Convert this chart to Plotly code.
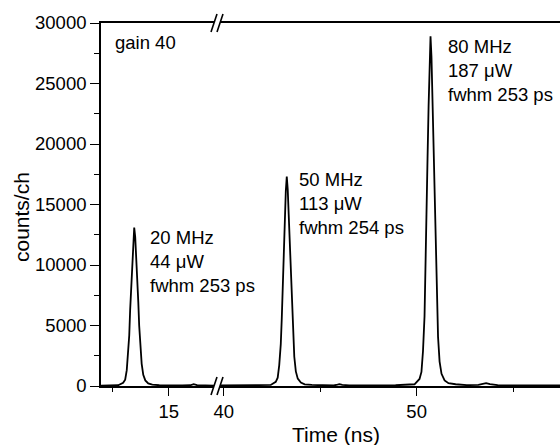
import plotly.graph_objects as go

# Time-resolved photon counts, gain 40, broken time axis (ns)
# Segment before the break: 20 MHz pulse
time_a = [12.0, 12.76, 12.98, 13.07, 13.14, 13.205, 13.25, 13.29, 13.34, 13.38,
          13.426, 13.47, 13.514, 13.56, 13.60, 13.65, 13.69, 13.735, 13.80, 13.87,
          13.96, 14.09, 14.27, 14.58, 15.0, 15.6, 15.95, 16.1, 16.25, 16.6, 17.0]
counts_a = [20, 65, 260, 520, 1310, 2620, 4190, 6290, 8520, 10480,
            12180, 13100, 12310, 10740, 8910, 6940, 4980, 3410, 1830, 920,
            460, 210, 105, 65, 45, 40, 60, 150, 70, 40, 35]

# Segment after the break: 50 MHz and 80 MHz pulses
time_b = [39.81, 40.5, 41.0, 41.46, 42.44, 42.70, 42.80, 42.88, 42.96, 43.01,
          43.06, 43.115, 43.17, 43.22, 43.27, 43.32, 43.37, 43.425, 43.48, 43.53,
          43.58, 43.66, 43.74, 43.84, 44.00, 44.20, 44.57, 45.0, 45.7, 45.9,
          46.0, 46.15, 46.5, 47.5, 48.5, 48.91, 49.89, 50.15, 50.25, 50.33,
          50.41, 50.46, 50.51, 50.565, 50.62, 50.67, 50.72, 50.77, 50.82, 50.875,
          50.93, 50.98, 51.03, 51.11, 51.19, 51.29, 51.45, 51.65, 52.02, 52.6,
          53.2, 53.45, 53.6, 53.8, 54.2, 55.0, 56.0, 57.43]
counts_b = [40, 40, 35, 35, 85, 350, 690, 1730, 3460, 5540,
            8300, 11250, 13840, 16090, 17300, 16260, 14190, 11760, 9170, 6570,
            4500, 2420, 1210, 610, 280, 140, 85, 50, 45, 110,
            150, 100, 45, 40, 40, 60, 145, 580, 1160, 2890,
            5780, 9250, 13870, 18790, 23120, 26880, 28900, 27170, 23700, 19650,
            15320, 10980, 7510, 4050, 2020, 1010, 460, 230, 145, 70,
            90, 200, 230, 150, 70, 50, 45, 45]

range_a = [12.0, 17.0]
range_b = [39.81, 57.43]
y_range = [0, 30000]

labels = [
    (12.53, 28350, "x", "gain 40"),
    (14.08, 10250, "x", "20 MHz<br>44 μW<br>fwhm 253 ps"),
    (43.82, 15080, "x2", "50 MHz<br>113 μW<br>fwhm 254 ps"),
    (51.50, 26060, "x2", "80 MHz<br>187 μW<br>fwhm 253 ps"),
]

FONT = "Liberation Sans, Arial, sans-serif"
TXT = 18.5
TITLE = 21
W, H = 560, 445
ML, MR, MT, MB = 101, 0, 23, 59
PW = W - ML - MR
PH = H - MT - MB

# pixel edges of the two axis segments
seg_a_end = 214
seg_b_start = 220
dom_a = [0, (seg_a_end - ML) / PW]
dom_b = [(seg_b_start - ML) / PW, 1]

fig = go.Figure()
line_style = dict(color="black", width=1.8)
fig.add_trace(go.Scatter(x=time_a, y=counts_a, mode="lines", line=line_style,
                         xaxis="x", yaxis="y", showlegend=False))
fig.add_trace(go.Scatter(x=time_b, y=counts_b, mode="lines", line=line_style,
                         xaxis="x2", yaxis="y", showlegend=False))

axis_common = dict(showline=True, linecolor="black", linewidth=1.6, mirror=True,
                   ticks="outside", ticklen=8, tickwidth=1.4, tickcolor="black",
                   showgrid=False, zeroline=False,
                   tickfont=dict(family=FONT, size=TXT, color="black"))

fig.update_layout(
    width=W, height=H,
    margin=dict(l=ML, r=MR, t=MT, b=MB),
    paper_bgcolor="white", plot_bgcolor="white",
    xaxis=dict(domain=dom_a, range=range_a, anchor="y", dtick=5, tick0=0,
               minor=dict(dtick=2.5, tick0=0, ticks="outside", ticklen=4,
                          tickcolor="black", tickwidth=1.4),
               **axis_common),
    xaxis2=dict(domain=dom_b, range=range_b, anchor="y", dtick=10, tick0=0,
                minor=dict(dtick=5, tick0=0, ticks="outside", ticklen=4,
                           tickcolor="black", tickwidth=1.4),
                **axis_common),
    yaxis=dict(range=y_range, dtick=5000, tickformat="d", showline=True,
               linecolor="black", linewidth=1.6, ticks="outside", ticklen=9,
               tickwidth=1.4, tickcolor="black", showgrid=False, zeroline=False,
               minor=dict(dtick=2500, ticks="outside", ticklen=5,
                          tickcolor="black", tickwidth=1.4),
               tickfont=dict(family=FONT, size=TXT, color="black")),
)

for x, y, xr, txt in labels:
    fig.add_annotation(x=x, y=y, xref=xr, yref="y", text=txt, showarrow=False,
                       xanchor="left", yanchor="middle", align="left",
                       font=dict(family=FONT, size=TXT, color="black"))

fig.add_annotation(x=(336 - ML) / PW, y=(MT + PH - 434) / PH, xref="paper", yref="paper",
                   text="Time (ns)", showarrow=False, xanchor="center", yanchor="middle",
                   font=dict(family=FONT, size=TITLE, color="black"))
fig.add_annotation(x=(21 - ML) / PW, y=(MT + PH - 217) / PH, xref="paper", yref="paper",
                   text="counts/ch", textangle=-90, showarrow=False,
                   xanchor="center", yanchor="middle",
                   font=dict(family=FONT, size=TITLE, color="black"))

# axis-break marks ("//") at both ends of the gap, top and bottom
dx = 3 / PW
dy = 9 / PH
for xc_px in (seg_a_end, seg_b_start):
    xc = (xc_px - ML) / PW
    for yc in (0, 1):
        fig.add_shape(type="line", xref="paper", yref="paper",
                      x0=xc - dx, y0=yc - dy, x1=xc + dx, y1=yc + dy,
                      line=dict(color="black", width=1.6))

fig.write_html("out.html")
